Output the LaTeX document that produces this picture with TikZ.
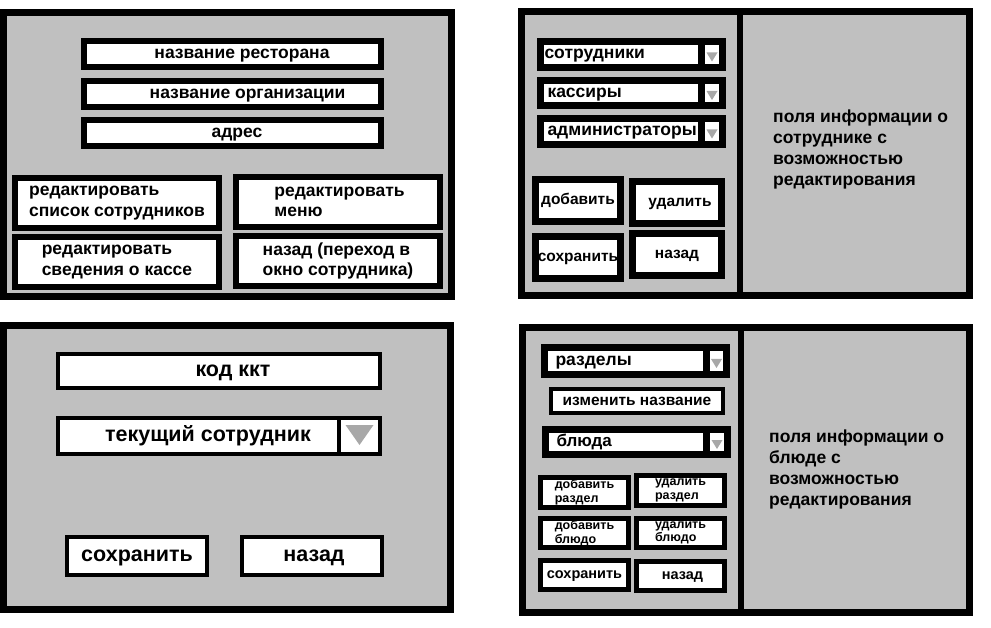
\documentclass[tikz,border=0pt]{standalone}
\usepackage{fontspec}
\setmainfont{Liberation Sans}
\usetikzlibrary{positioning}
\definecolor{panelgray}{HTML}{C0C0C0}
\definecolor{arrowgray}{HTML}{A8A8A8}

\begin{document}
\begin{tikzpicture}[x=1pt, y=-1pt,
  panel/.style={draw, line width=7pt, fill=panelgray},
  btn/.style={draw, line width=#1, fill=white, inner sep=0pt, align=center},
  btn/.default=6pt,
  drop/.style={draw, line width=7pt, fill=white, inner xsep=4pt, inner ysep=0pt,
    align=left, text width=#1},
  arrowbox/.style={draw, line width=#1, fill=white, inner sep=0pt},
  arrowbox/.default=7pt,
  flat/.style={text height=#1, text depth=0pt},
  fbig/.style={font=\bfseries\fontsize{17.5}{20.5}\selectfont},
  fmid/.style={font=\bfseries\fontsize{15.5}{18}\selectfont, flat=8pt},
  fhuge/.style={font=\bfseries\fontsize{21.5}{25}\selectfont, flat=11pt},
  fsmall/.style={font=\bfseries\fontsize{12.5}{13.5}\selectfont},
  info/.style={fbig, anchor=west, inner sep=0pt, align=left,
    font=\bfseries\fontsize{17.5}{21}\selectfont}]
  \useasboundingbox (0,0) rectangle (991,628);

  % окно настроек ресторана
  \draw[panel] (3.5,12.5) rectangle (451.5,296.5);
  \node[btn, fbig, flat=9pt, minimum width=297pt, minimum height=26pt] (rest) at (232.5,54) {\hspace*{19pt}название ресторана};
  \node[btn, fbig, flat=9pt, minimum width=297pt, minimum height=26pt] (org) at (232.5,94) {\hspace*{30pt}название организации};
  \node[btn, fbig, flat=9pt, minimum width=297pt, minimum height=26pt] (addr) at (232.5,133) {\hspace*{9pt}адрес};
  \node[btn, fbig, minimum width=204pt, minimum height=50pt, align=left] (staff) at (117,203) {редактировать\\список сотрудников};
  \node[btn, fbig, minimum width=204pt, minimum height=50pt, align=left] (menu) at (338,202) {\hspace*{3pt}редактировать\\\hspace*{3pt}меню};
  \node[btn, fbig, minimum width=204pt, minimum height=50pt, align=left] (kassa) at (117,262) {редактировать\\сведения о кассе};
  \node[btn, fbig, minimum width=204pt, minimum height=50pt, align=left] (back1) at (338,261) {назад (переход в\\окно сотрудника)};

  % окно сотрудников
  \draw[panel] (521.5,11.5) rectangle (969.5,295.5);
  \draw[line width=6pt] (740,11.5) -- (740,295.5);
  \node[drop=153pt, fbig, flat=9pt, minimum height=26pt] (emp) at (621,54.5) {сотрудники};
  \node[arrowbox, minimum width=21pt, minimum height=26pt, right=-7pt of emp] (a1) {};
  \node[drop=153pt, fbig, flat=9pt, minimum height=25pt] (cash) at (621,93) {\hspace*{3pt}кассиры};
  \node[arrowbox, minimum width=21pt, minimum height=25pt, right=-7pt of cash] (a2) {};
  \node[drop=153pt, fbig, flat=9pt, minimum height=26pt] (adm) at (621,131.5) {\hspace*{3pt}администраторы};
  \node[arrowbox, minimum width=21pt, minimum height=26pt, right=-7pt of adm] (a3) {};
  \node[btn=7pt, fmid, minimum width=85pt, minimum height=42pt] (add) at (578,201) {добавить};
  \node[btn=7pt, fmid, minimum width=89pt, minimum height=42pt] (del) at (677,202.5) {\hspace*{6pt}удалить};
  \node[btn=7pt, fmid, minimum width=85pt, minimum height=42pt] (save2) at (578,257.5) {сохранить};
  \node[btn=7pt, fmid, minimum width=89pt, minimum height=42pt] (back2) at (677,255) {назад};
  \node[info] (staffinfo) at (773,149) {поля информации о\\сотруднике с\\возможностью\\редактирования};

  % окно кассы
  \draw[panel] (3.5,325.5) rectangle (450.5,609.5);
  \node[btn=4pt, fhuge, minimum width=322pt, minimum height=34pt] (kkt) at (219,371) {\hspace*{28pt}код ккт};
  \node[btn=4pt, fhuge, minimum width=281pt, minimum height=36pt] (cur) at (198.5,436) {\hspace*{19pt}текущий сотрудник};
  \node[arrowbox=4pt, minimum width=41pt, minimum height=36pt, right=-4pt of cur] (a4) {};
  \node[btn=4pt, fhuge, minimum width=140pt, minimum height=38pt] (save3) at (137,556) {сохранить};
  \node[btn=4pt, fhuge, minimum width=140pt, minimum height=38pt] (back3) at (312,556) {\hspace*{4pt}назад};

  % окно меню
  \draw[panel] (522.5,327.5) rectangle (969.5,612.5);
  \draw[line width=6pt] (741,327.5) -- (741,612.5);
  \node[drop=154pt, font=\bfseries\fontsize{17.5}{20}\selectfont, flat=9pt, minimum height=27pt] (sect) at (625.5,361) {\hspace*{7pt}разделы};
  \node[arrowbox, minimum width=20pt, minimum height=27pt, right=-7pt of sect] (a5) {};
  \node[btn=4pt, fmid, minimum width=172pt, minimum height=24pt] (rename) at (637,401) {изменить название};
  \node[drop=153pt, font=\bfseries\fontsize{17}{20}\selectfont, flat=9pt, minimum height=25pt] (dish) at (626,442) {\hspace*{7pt}блюда};
  \node[arrowbox, minimum width=21pt, minimum height=25pt, right=-7pt of dish] (a6) {};
  \node[btn=5pt, fsmall, minimum width=88pt, minimum height=30pt, align=left] (addsec) at (584.5,492) {добавить\\раздел};
  \node[btn=5pt, fsmall, minimum width=88pt, minimum height=30pt, align=left] (delsec) at (680.5,490.5) {удалить\\раздел};
  \node[btn=5pt, fsmall, minimum width=88pt, minimum height=29pt, align=left] (adddish) at (584.5,533) {добавить\\блюдо};
  \node[btn=5pt, fsmall, minimum width=88pt, minimum height=29pt, align=left] (deldish) at (680.5,533) {удалить\\блюдо};
  \node[btn=5pt, font=\bfseries\fontsize{14.5}{17}\selectfont, flat=7.5pt, minimum width=88pt, minimum height=29pt] (save4) at (584.5,575) {сохранить};
  \node[btn=5pt, font=\bfseries\fontsize{14.5}{17}\selectfont, flat=7.5pt, minimum width=88pt, minimum height=29pt] (back4) at (680.5,576) {\hspace*{4pt}назад};
  \node[info] (dishinfo) at (769,469) {поля информации о\\блюде с\\возможностью\\редактирования};

  % стрелки выпадающих списков
  \foreach \a in {a1,a2,a3,a5,a6}
    \fill[arrowgray] ([xshift=-5.5pt,yshift=2pt]\a.center) -- ([xshift=5.5pt,yshift=2pt]\a.center) -- ([yshift=-7pt]\a.center) -- cycle;
  \fill[arrowgray] ([xshift=-14pt,yshift=11pt]a4.center) -- ([xshift=14pt,yshift=11pt]a4.center) -- ([yshift=-9pt]a4.center) -- cycle;
\end{tikzpicture}
\end{document}
